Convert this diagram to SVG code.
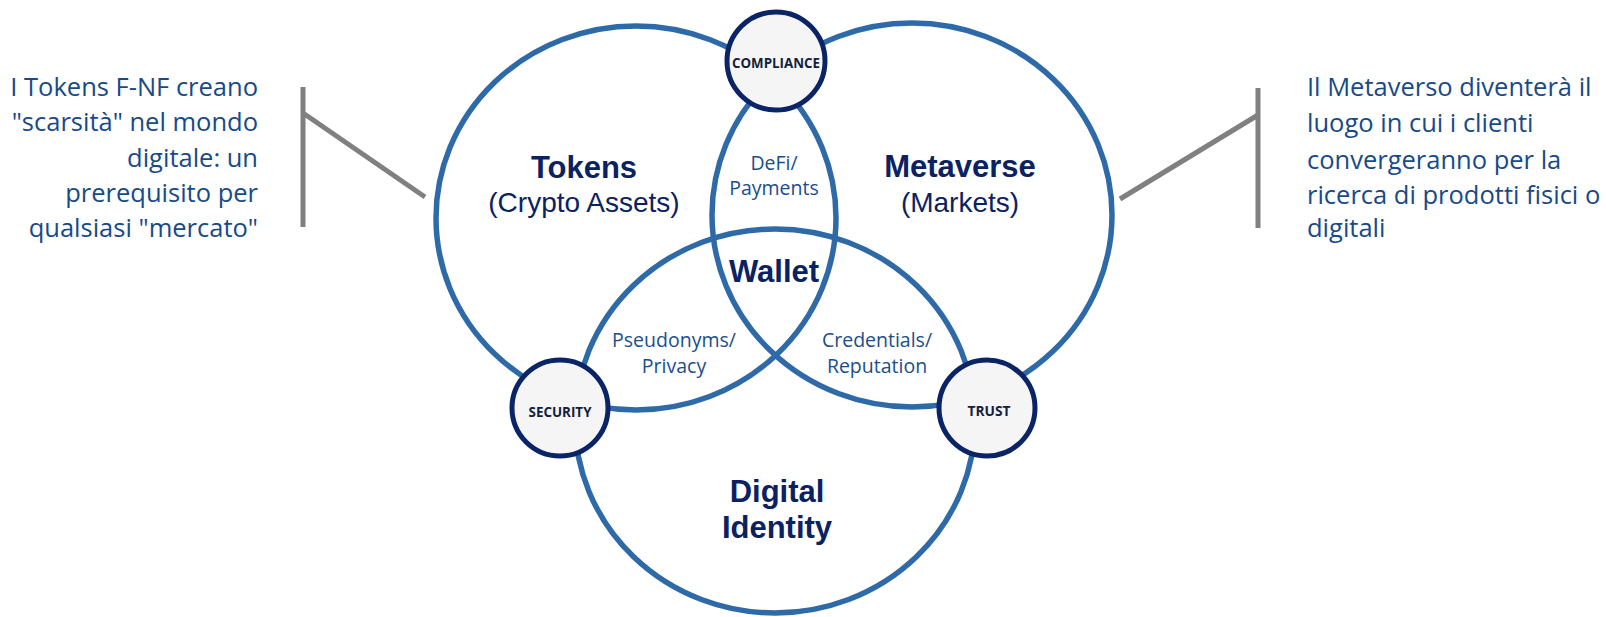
<svg xmlns="http://www.w3.org/2000/svg" width="1606" height="617" viewBox="0 0 1606 617">
<style>
.ring{fill:none;stroke:#2E69A8;stroke-width:5.5}
.node{fill:#F5F5F6;stroke:#0B2466;stroke-width:5}
.nlabel{font-family:"Open Sans","Liberation Sans",sans-serif;font-weight:700;font-size:14px;fill:#14213D;text-anchor:middle}
.title{font-family:"Liberation Sans",Arial,sans-serif;font-weight:700;font-size:31px;fill:#0B2262;text-anchor:middle}
.sub{font-family:"Liberation Sans",Arial,sans-serif;font-size:28px;fill:#0B2262;text-anchor:middle}
.small{font-family:"Open Sans","Noto Sans",sans-serif;font-size:19.5px;fill:#1B4E8C;text-anchor:middle}
.side{font-family:"Open Sans","Noto Sans",sans-serif;font-size:25.5px;fill:#174A88}
.lead{stroke:#808080;stroke-width:5;fill:none}
</style>
<rect width="1606" height="617" fill="#FFFFFF"/>
<g id="connectors">
<path class="lead" d="M303 87 V227 M303 113 L425 197"/>
<path class="lead" d="M1258 88 V228 M1258 115 L1120 199"/>
</g>
<g id="tokens">
<ellipse class="ring" cx="636" cy="218" rx="200" ry="192"/>
<text class="title" x="584" y="178">Tokens</text>
<text class="sub" x="584" y="212">(Crypto Assets)</text>
</g>
<g id="metaverse">
<ellipse class="ring" cx="912" cy="215" rx="200" ry="192"/>
<text class="title" x="960" y="177">Metaverse</text>
<text class="sub" x="960" y="212">(Markets)</text>
</g>
<g id="digital-identity">
<ellipse class="ring" cx="775" cy="421" rx="200" ry="192"/>
<text class="title" x="777" y="502">Digital</text>
<text class="title" x="777" y="538">Identity</text>
</g>
<g id="defi">
<text class="small" x="774" y="170">DeFi/</text>
<text class="small" x="774" y="195">Payments</text>
</g>
<g id="wallet">
<text class="title" x="774" y="282">Wallet</text>
</g>
<g id="pseudonyms">
<text class="small" x="674" y="347">Pseudonyms/</text>
<text class="small" x="674" y="373">Privacy</text>
</g>
<g id="credentials">
<text class="small" x="877" y="347">Credentials/</text>
<text class="small" x="877" y="373">Reputation</text>
</g>
<g id="compliance">
<circle class="node" cx="776" cy="61" r="49"/>
<text class="nlabel" x="776" y="68" textLength="88" lengthAdjust="spacingAndGlyphs">COMPLIANCE</text>
</g>
<g id="security">
<circle class="node" cx="560" cy="408" r="48"/>
<text class="nlabel" x="560" y="417" textLength="63" lengthAdjust="spacingAndGlyphs">SECURITY</text>
</g>
<g id="trust">
<circle class="node" cx="987" cy="408" r="48"/>
<text class="nlabel" x="989" y="416" textLength="43" lengthAdjust="spacingAndGlyphs">TRUST</text>
</g>
<g id="note-left">
<text class="side" text-anchor="end" x="258" y="96">I Tokens F-NF creano</text>
<text class="side" text-anchor="end" x="258" y="131">"scarsità" nel mondo</text>
<text class="side" text-anchor="end" x="258" y="167">digitale: un</text>
<text class="side" text-anchor="end" x="258" y="202">prerequisito per</text>
<text class="side" text-anchor="end" x="258" y="237">qualsiasi "mercato"</text>
</g>
<g id="note-right">
<text class="side" x="1307" y="96">Il Metaverso diventerà il</text>
<text class="side" x="1307" y="132">luogo in cui i clienti</text>
<text class="side" x="1307" y="169">convergeranno per la</text>
<text class="side" x="1307" y="204">ricerca di prodotti fisici o</text>
<text class="side" x="1307" y="237">digitali</text>
</g>
</svg>
